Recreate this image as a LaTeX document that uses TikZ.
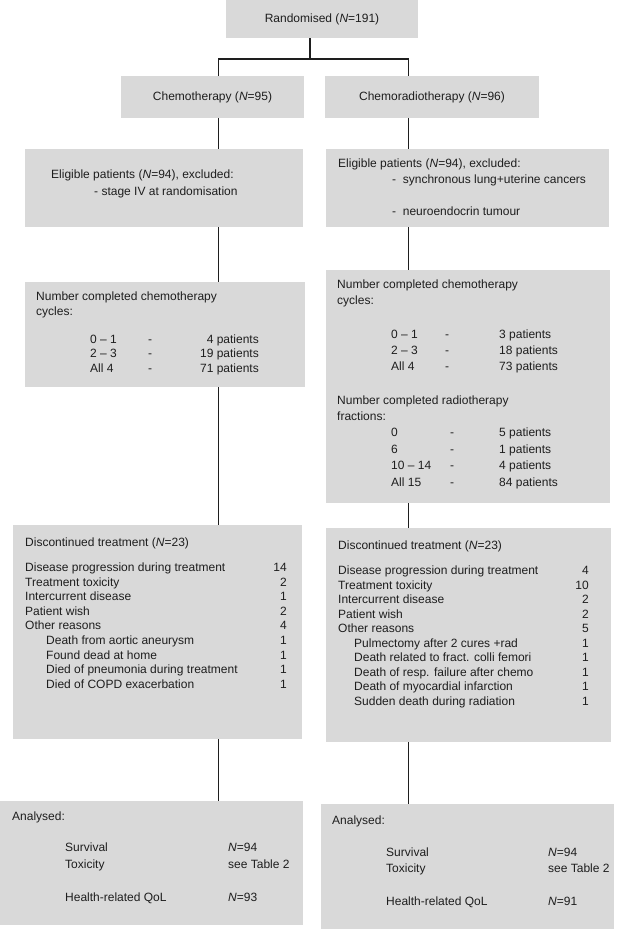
\documentclass[tikz,border=0pt]{standalone}
\usepackage{fontspec}
\setmainfont{Liberation Sans}
\definecolor{boxgray}{RGB}{217,217,217}
\definecolor{ink}{RGB}{30,30,30}

\begin{document}
\begin{tikzpicture}[x=1pt, y=-1pt, font=\fontsize{12}{14}\selectfont, text=ink,
  box/.style={fill=boxgray, inner sep=0pt, outer sep=0pt},
  txt/.style={anchor=west, inner sep=0pt, text height=8.6pt, text depth=2.4pt},
  num/.style={txt, anchor=east},
  link/.style={draw=ink, line width=1.2pt}]
\useasboundingbox (0,0) rectangle (620,929);
% boxes
\node[box, minimum width=192pt, minimum height=38pt] (rand) at (322,19) {Randomised (\textit{N}=191)};
\node[box, minimum width=183pt, minimum height=42pt] (chemo) at (212.5,97) {Chemotherapy (\textit{N}=95)};
\node[box, minimum width=214pt, minimum height=42pt] (crt) at (432,97) {Chemoradiotherapy (\textit{N}=96)};
\node[box, minimum width=278pt, minimum height=78pt] (elL) at (164,188) {};
\node[box, minimum width=283pt, minimum height=78pt] (elR) at (467.5,188) {};
\node[box, minimum width=280pt, minimum height=105pt] (cycL) at (165,334.5) {};
\node[box, minimum width=284pt, minimum height=233pt] (cycR) at (468,386.5) {};
\node[box, minimum width=289pt, minimum height=214pt] (disL) at (157.5,632) {};
\node[box, minimum width=285pt, minimum height=214pt] (disR) at (468.5,635) {};
\node[box, minimum width=303pt, minimum height=124pt] (anL) at (151.5,863) {};
\node[box, minimum width=293pt, minimum height=125pt] (anR) at (467.5,866.5) {};
% eligible
\node[txt] (eL1) at (51,175) {Eligible patients (\textit{N}=94), excluded:};
\node[txt] (eL2) at (94,192) {- stage IV at randomisation};
\node[txt] (eR1) at (338,164) {Eligible patients (\textit{N}=94), excluded:};
\node[txt] (eR2) at (392,180) {-\ \ synchronous lung+uterine cancers};
\node[txt] (eR3) at (392,212) {-\ \ neuroendocrin tumour};
% cycles, chemotherapy arm
\node[txt] (cL1) at (36,297) {Number completed chemotherapy};
\node[txt] (cL2) at (36,312) {cycles:};
\node[txt] (cL3) at (90,340) {0 -- 1}; \node[txt] (cL4) at (148,340) {-}; \node[num] (cL5) at (259,340) {4 patients};
\node[txt] (cL6) at (90,354) {2 -- 3}; \node[txt] (cL7) at (148,354) {-}; \node[num] (cL8) at (259,354) {19 patients};
\node[txt] (cL9) at (90,369) {All 4}; \node[txt] (cL10) at (148,369) {-}; \node[num] (cL11) at (259,369) {71 patients};
% cycles and fractions, chemoradiotherapy arm
\node[txt] (cR1) at (337,285) {Number completed chemotherapy};
\node[txt] (cR2) at (337,301) {cycles:};
\node[txt] (cR3) at (391,335) {0 -- 1}; \node[txt] (cR4) at (445,335) {-}; \node[txt] (cR5) at (499,335) {3 patients};
\node[txt] (cR6) at (391,351) {2 -- 3}; \node[txt] (cR7) at (445,351) {-}; \node[txt] (cR8) at (499,351) {18 patients};
\node[txt] (cR9) at (391,367) {All 4}; \node[txt] (cR10) at (445,367) {-}; \node[txt] (cR11) at (499,367) {73 patients};
\node[txt] (fR1) at (337,401) {Number completed radiotherapy};
\node[txt] (fR2) at (337,417) {fractions:};
\node[txt] (fR3) at (391,433) {0}; \node[txt] (fR4) at (450,433) {-}; \node[txt] (fR5) at (499,433) {5 patients};
\node[txt] (fR6) at (391,450) {6}; \node[txt] (fR7) at (450,450) {-}; \node[txt] (fR8) at (499,450) {1 patients};
\node[txt] (fR9) at (391,466) {10 -- 14}; \node[txt] (fR10) at (450,466) {-}; \node[txt] (fR11) at (499,466) {4 patients};
\node[txt] (fR12) at (391,483) {All 15}; \node[txt] (fR13) at (450,483) {-}; \node[txt] (fR14) at (499,483) {84 patients};
% discontinued, chemotherapy arm
\node[txt] (dL0) at (25,543) {Discontinued treatment (\textit{N}=23)};
\node[txt] (dL1) at (25,568) {Disease progression during treatment}; \node[num] (nL1) at (287,568) {14};
\node[txt] (dL2) at (25,583) {Treatment toxicity}; \node[num] (nL2) at (287,583) {2};
\node[txt] (dL3) at (25,597) {Intercurrent disease}; \node[num] (nL3) at (287,597) {1};
\node[txt] (dL4) at (25,612) {Patient wish}; \node[num] (nL4) at (287,612) {2};
\node[txt] (dL5) at (25,626) {Other reasons}; \node[num] (nL5) at (287,626) {4};
\node[txt] (dL6) at (46,641) {Death from aortic aneurysm}; \node[num] (nL6) at (287,641) {1};
\node[txt] (dL7) at (46,656) {Found dead at home}; \node[num] (nL7) at (287,656) {1};
\node[txt] (dL8) at (46,670) {Died of pneumonia during treatment}; \node[num] (nL8) at (287,670) {1};
\node[txt] (dL9) at (46,685) {Died of COPD exacerbation}; \node[num] (nL9) at (287,685) {1};
% discontinued, chemoradiotherapy arm
\node[txt] (dR0) at (338,546) {Discontinued treatment (\textit{N}=23)};
\node[txt] (dR1) at (338,571) {Disease progression during treatment}; \node[num] (nR1) at (589,571) {4};
\node[txt] (dR2) at (338,586) {Treatment toxicity}; \node[num] (nR2) at (589,586) {10};
\node[txt] (dR3) at (338,600) {Intercurrent disease}; \node[num] (nR3) at (589,600) {2};
\node[txt] (dR4) at (338,615) {Patient wish}; \node[num] (nR4) at (589,615) {2};
\node[txt] (dR5) at (338,629) {Other reasons}; \node[num] (nR5) at (589,629) {5};
\node[txt] (dR6) at (354,644) {Pulmectomy after 2 cures +rad}; \node[num] (nR6) at (589,644) {1};
\node[txt] (dR7) at (354,658) {Death related to fract. colli femori}; \node[num] (nR7) at (589,658) {1};
\node[txt] (dR8) at (354,673) {Death of resp. failure after chemo}; \node[num] (nR8) at (589,673) {1};
\node[txt] (dR9) at (354,687) {Death of myocardial infarction}; \node[num] (nR9) at (589,687) {1};
\node[txt] (dR10) at (354,702) {Sudden death during radiation}; \node[num] (nR10) at (589,702) {1};
% analysed
\node[txt] (aL0) at (12,817) {Analysed:};
\node[txt] (aL1) at (65,848) {Survival}; \node[txt] (vL1) at (228,848) {\textit{N}=94};
\node[txt] (aL2) at (65,865) {Toxicity}; \node[txt] (vL2) at (228,865) {see Table 2};
\node[txt] (aL3) at (65,898) {Health-related QoL}; \node[txt] (vL3) at (228,898) {\textit{N}=93};
\node[txt] (aR0) at (332,821) {Analysed:};
\node[txt] (aR1) at (386,853) {Survival}; \node[txt] (vR1) at (548,853) {\textit{N}=94};
\node[txt] (aR2) at (386,869) {Toxicity}; \node[txt] (vR2) at (548,869) {see Table 2};
\node[txt] (aR3) at (386,902) {Health-related QoL}; \node[txt] (vR3) at (548,902) {\textit{N}=91};
% connectors
\coordinate (sp) at (310,59);
\coordinate (lx) at (218.5,0);
\coordinate (rx) at (408.5,0);
\draw[link] (rand.south -| sp) -- (sp);
\draw[link] (chemo.north -| lx) |- (sp) -| (crt.north -| rx);
\draw[link] (chemo.south -| lx) -- (elL.north -| lx);
\draw[link] (crt.south -| rx) -- (elR.north -| rx);
\draw[link] (elL.south -| lx) -- (cycL.north -| lx);
\draw[link] (elR.south -| rx) -- (cycR.north -| rx);
\draw[link] (cycL.south -| lx) -- (disL.north -| lx);
\draw[link] (cycR.south -| rx) -- (disR.north -| rx);
\draw[link] (disL.south -| lx) -- (anL.north -| lx);
\draw[link] (disR.south -| rx) -- (anR.north -| rx);
\end{tikzpicture}
\end{document}
